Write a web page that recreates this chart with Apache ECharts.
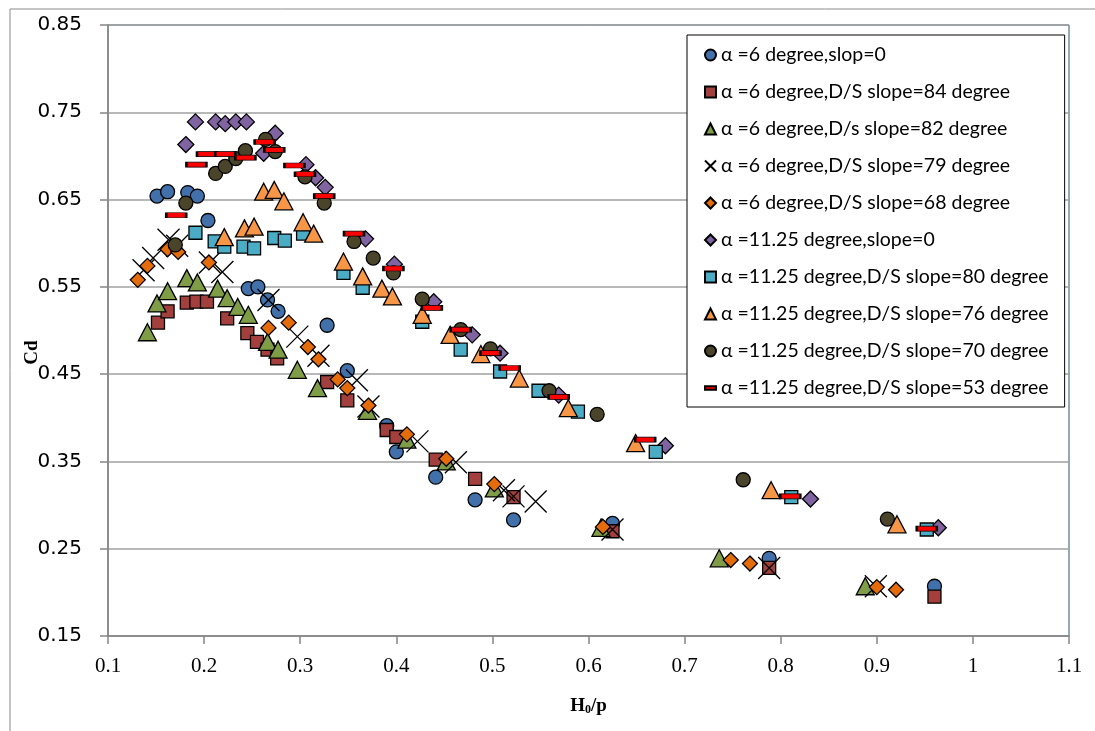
<!DOCTYPE html>
<html><head><meta charset="utf-8">
<script src="https://cdn.jsdelivr.net/npm/echarts@6/dist/echarts.min.js"></script>
<style>html,body{margin:0;padding:0;background:#fff}#c{width:1095px;height:731px}</style>
</head><body><div id="c"></div>
<script>
// ---- data (H0/p, Cd) ----
const names = [
  'α =6 degree,slop=0',
  'α =6 degree,D/S slope=84 degree',
  'α =6 degree,D/s slope=82 degree',
  'α =6 degree,D/S slope=79 degree',
  'α =6 degree,D/S slope=68 degree',
  'α =11.25 degree,slope=0',
  'α =11.25 degree,D/S slope=80 degree',
  'α =11.25 degree,D/S slope=76 degree',
  'α =11.25 degree,D/S slope=70 degree',
  'α =11.25 degree,D/S slope=53 degree'
];
const a6s0 = [[0.151,0.654],[0.162,0.659],[0.183,0.658],[0.193,0.654],[0.204,0.626],[0.246,0.548],[0.256,0.550],[0.266,0.535],[0.277,0.522],[0.328,0.506],[0.349,0.454],[0.390,0.391],[0.400,0.361],[0.441,0.332],[0.482,0.306],[0.522,0.283],[0.625,0.279],[0.788,0.239],[0.960,0.207]];
const a6s84 = [[0.152,0.509],[0.162,0.522],[0.182,0.532],[0.192,0.533],[0.203,0.533],[0.224,0.514],[0.245,0.497],[0.255,0.487],[0.266,0.478],[0.276,0.468],[0.328,0.441],[0.349,0.420],[0.390,0.386],[0.400,0.378],[0.441,0.352],[0.482,0.330],[0.522,0.309],[0.625,0.270],[0.788,0.228],[0.960,0.195]];
const a6s82 = [[0.141,0.498],[0.151,0.531],[0.162,0.545],[0.182,0.560],[0.193,0.555],[0.214,0.548],[0.224,0.537],[0.235,0.527],[0.246,0.518],[0.266,0.487],[0.277,0.478],[0.297,0.455],[0.318,0.434],[0.370,0.408],[0.411,0.375],[0.452,0.350],[0.502,0.319],[0.613,0.274],[0.736,0.239],[0.888,0.207]];
const a6s79 = [[0.137,0.569],[0.147,0.583],[0.163,0.604],[0.172,0.597],[0.206,0.578],[0.219,0.567],[0.267,0.535],[0.297,0.493],[0.319,0.471],[0.359,0.443],[0.371,0.413],[0.422,0.373],[0.462,0.349],[0.512,0.317],[0.522,0.310],[0.545,0.304],[0.625,0.272],[0.788,0.228],[0.899,0.207]];
const a6s68 = [[0.131,0.558],[0.141,0.574],[0.162,0.593],[0.173,0.590],[0.205,0.578],[0.267,0.503],[0.288,0.509],[0.308,0.481],[0.319,0.467],[0.339,0.444],[0.349,0.434],[0.371,0.414],[0.411,0.381],[0.452,0.353],[0.502,0.324],[0.615,0.275],[0.748,0.237],[0.768,0.233],[0.900,0.206],[0.920,0.203]];
const a11s0 = [[0.181,0.713],[0.191,0.739],[0.212,0.739],[0.222,0.737],[0.233,0.739],[0.244,0.739],[0.262,0.703],[0.274,0.726],[0.306,0.690],[0.316,0.675],[0.326,0.664],[0.368,0.605],[0.398,0.576],[0.439,0.533],[0.479,0.495],[0.508,0.474],[0.569,0.426],[0.680,0.368],[0.831,0.307],[0.964,0.274]];
const a11s80 = [[0.191,0.612],[0.211,0.602],[0.221,0.596],[0.241,0.596],[0.252,0.594],[0.273,0.606],[0.284,0.603],[0.303,0.611],[0.345,0.566],[0.365,0.549],[0.427,0.510],[0.467,0.478],[0.508,0.453],[0.548,0.431],[0.589,0.407],[0.670,0.361],[0.811,0.309],[0.952,0.272]];
const a11s76 = [[0.221,0.607],[0.242,0.617],[0.252,0.619],[0.262,0.659],[0.273,0.661],[0.283,0.648],[0.303,0.624],[0.314,0.611],[0.345,0.579],[0.365,0.562],[0.385,0.548],[0.396,0.539],[0.427,0.518],[0.456,0.495],[0.488,0.473],[0.528,0.445],[0.579,0.411],[0.649,0.371],[0.790,0.317],[0.921,0.278]];
const a11s70 = [[0.170,0.598],[0.181,0.646],[0.212,0.680],[0.222,0.688],[0.233,0.697],[0.243,0.706],[0.264,0.719],[0.274,0.705],[0.305,0.676],[0.325,0.646],[0.356,0.602],[0.376,0.583],[0.397,0.566],[0.427,0.536],[0.467,0.501],[0.498,0.479],[0.559,0.431],[0.609,0.404],[0.761,0.329],[0.911,0.284]];
const a11s53 = [[0.171,0.632],[0.192,0.690],[0.203,0.702],[0.222,0.702],[0.243,0.698],[0.263,0.716],[0.273,0.707],[0.294,0.689],[0.305,0.679],[0.325,0.654],[0.356,0.611],[0.397,0.571],[0.437,0.526],[0.467,0.501],[0.498,0.474],[0.518,0.457],[0.569,0.424],[0.659,0.375],[0.810,0.310],[0.952,0.273]];
const seriesData = [a6s0,a6s84,a6s82,a6s79,a6s68,a11s0,a11s80,a11s76,a11s70,a11s53];

// ---- styles ----
const XPATH = 'path://M0,0L20,20M20,0L0,20';
const styles = [
  {symbol:'circle', size:14, color:'#4170AA'},
  {symbol:'rect', size:13, color:'#A3403D'},
  {symbol:'triangle', size:[18,17], color:'#7F9D47'},
  {symbol:XPATH, size:22, color:'rgba(0,0,0,0)', bw:1.3},
  {symbol:'diamond', size:15, color:'#E46C0A'},
  {symbol:'diamond', size:16, color:'#8064A2'},
  {symbol:'rect', size:13, color:'#4BACC6'},
  {symbol:'triangle', size:[18,17], color:'#F79646'},
  {symbol:'circle', size:14, color:'#4A452A'},
  {symbol:'rect', size:[20,5], color:'#FF0000'}
];
const legendIcons = ['circle','rect','triangle','path://M0,0L20,20M20,0L0,20','diamond','diamond','rect','triangle','circle','path://M0,0h20v6h-20z'];

const series = seriesData.map((d,i)=>({
  name:names[i], type:'scatter', data:d,
  symbol:styles[i].symbol, symbolSize:styles[i].size,
  itemStyle:{color:styles[i].color, borderColor:'#000', borderWidth:styles[i].bw||1.3, opacity:1},
  emphasis:{disabled:true}, silent:true
}));

const chart = echarts.init(document.getElementById('c'));
chart.setOption({
  animation:false,
  backgroundColor:'#fff',
  graphic:[{type:'rect', shape:{x:10,y:9,width:1200,height:1000}, style:{fill:'none', stroke:'#8a8a8a', lineWidth:1}, z:0, silent:true}],
  grid:{left:108, top:25, right:26, bottom:95, show:true, borderColor:'#2E5566', borderWidth:1},
  legend:{
    orient:'vertical', left:687, top:35,
    data:names.map((n,i)=>({name:n, icon:legendIcons[i]})),
    backgroundColor:'#fff', borderColor:'#000', borderWidth:1,
    padding:[10,16,9,17], itemWidth:11, itemHeight:11, itemGap:17,
    textStyle:{fontFamily:'Lato', fontSize:19.5, color:'#000', lineHeight:20},
    selectedMode:false
  },
  xAxis:{
    type:'value', min:0.1, max:1.1, interval:0.1,
    axisLine:{show:true, onZero:false, lineStyle:{color:'#868686', width:1.5}},
    axisTick:{show:true, length:8, lineStyle:{color:'#868686', width:1.5}},
    splitLine:{show:false},
    axisLabel:{margin:20, fontFamily:'Liberation Sans Narrow', fontSize:21, color:'#000',
      formatter:v=>String(+v.toFixed(2))},
    name:'{a|H}{s|0}{a|/p}', nameLocation:'middle', nameGap:61,
    nameTextStyle:{rich:{a:{fontFamily:'Liberation Serif', fontWeight:'bold', fontSize:19, color:'#000'},
                         s:{fontFamily:'Liberation Serif', fontWeight:'bold', fontSize:12, color:'#000', verticalAlign:'bottom', padding:[7,0,0,0]}}}
  },
  yAxis:{
    type:'value', min:0.15, max:0.85, interval:0.1,
    axisLine:{show:true, onZero:false, lineStyle:{color:'#868686', width:1.5}},
    axisTick:{show:true, length:8, lineStyle:{color:'#868686', width:1.5}},
    splitLine:{show:true, lineStyle:{color:'#A0A0A0', width:1.5}},
    axisLabel:{margin:26, fontFamily:'DejaVu Sans', fontSize:20, color:'#000',
      formatter:v=>v.toFixed(2)},
    name:'Cd', nameLocation:'middle', nameGap:66, nameRotate:90, nameMoveOverlap:false,
    nameTextStyle:{fontFamily:'Liberation Serif', fontWeight:'bold', fontSize:19, color:'#000', padding:[0,44,0,0]}
  },
  series:series
});
</script></body></html>
